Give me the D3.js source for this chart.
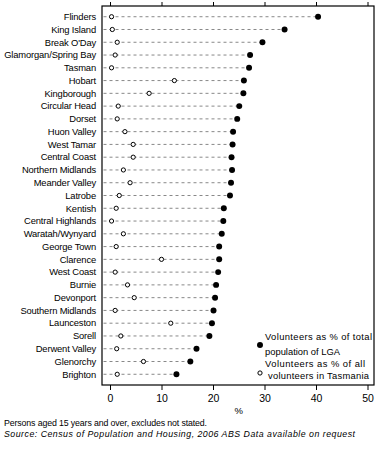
<!DOCTYPE html>
<html><head><meta charset="utf-8">
<script src="https://cdn.jsdelivr.net/npm/d3@7"></script>
<style>
body{margin:0;background:#fff;}
svg{display:block;font-family:"Liberation Sans",Arial,sans-serif;}
</style></head>
<body>
<script>
const categories = ["Flinders","King Island","Break O'Day","Glamorgan/Spring Bay","Tasman","Hobart","Kingborough","Circular Head","Dorset","Huon Valley","West Tamar","Central Coast","Northern Midlands","Meander Valley","Latrobe","Kentish","Central Highlands","Waratah/Wynyard","George Town","Clarence","West Coast","Burnie","Devonport","Southern Midlands","Launceston","Sorell","Derwent Valley","Glenorchy","Brighton"];
const pctPopulation = [40.4,33.9,29.6,27.2,27.0,26.0,25.9,25.1,24.7,23.9,23.8,23.6,23.7,23.5,23.3,22.1,22.0,21.7,21.2,21.2,21.0,20.6,20.4,20.1,19.8,19.3,16.8,15.6,12.9];
const pctTasVolunteers = [0.3,0.45,1.4,1.0,0.3,12.5,7.6,1.6,1.4,2.9,4.5,4.5,2.6,3.9,1.8,1.2,0.3,2.6,1.2,10.0,1.0,3.4,4.7,1.0,11.8,2.1,1.3,6.5,1.4];
const xTicks = [0,10,20,30,40,50];
const seriesNames = [["Volunteers as % of total","population of LGA"],["Volunteers as % of all","volunteers in Tasmania"]];

(function(){
const W=378,H=454;
const frame={l:102,r:374,t:6,b:385};
const svg=d3.select("body").append("svg").attr("width",W).attr("height",H);

const x=d3.scaleLinear().domain([0,50]).range([110,367.5]);
const y=d3.scalePoint().domain(categories).range([frame.t,frame.b]).padding(0.84);

svg.append("rect").attr("x",frame.l).attr("y",frame.t).attr("width",frame.r-frame.l).attr("height",frame.b-frame.t)
  .attr("fill","none").attr("stroke","#000").attr("stroke-width",1.2);

const bottomAxis=d3.axisBottom(x).tickValues(xTicks).tickSize(5).tickFormat(d3.format("d"));
const gb=svg.append("g").attr("transform",`translate(0,${frame.b})`).call(bottomAxis);
gb.select(".domain").remove();
gb.selectAll("text").attr("font-size",10.5).attr("fill","#000").attr("dy","0.9em").attr("font-family","Liberation Sans, Arial, sans-serif");
gb.selectAll("line").attr("stroke","#000");
const topAxis=d3.axisTop(x).tickValues(xTicks).tickSize(4).tickFormat("");
const gt=svg.append("g").attr("transform",`translate(0,${frame.t})`).call(topAxis);
gt.select(".domain").remove();
gt.selectAll("line").attr("stroke","#000");

svg.append("g").selectAll("text").data(categories).join("text")
  .attr("x",96).attr("y",d=>y(d)).attr("dy","0.35em").attr("text-anchor","end")
  .attr("font-size",9.4).attr("letter-spacing",-0.15).text(d=>d);

svg.append("g").selectAll("line").data(categories).join("line")
  .attr("x1",frame.l+1.5).attr("x2",(d,i)=>x(pctPopulation[i]))
  .attr("y1",d=>y(d)).attr("y2",d=>y(d))
  .attr("stroke","#888").attr("stroke-width",1).attr("stroke-dasharray","3,3");

const filledSym=d3.symbol().type(d3.symbolCircle).size(28);
const openSym=d3.symbol().type(d3.symbolCircle).size(14);
svg.append("g").selectAll("path").data(categories).join("path")
  .attr("transform",(d,i)=>`translate(${x(pctPopulation[i])},${y(d)})`)
  .attr("d",filledSym).attr("fill","#000");
svg.append("g").selectAll("path").data(categories).join("path")
  .attr("transform",(d,i)=>`translate(${x(pctTasVolunteers[i])},${y(d)})`)
  .attr("d",openSym).attr("fill","#fff").attr("stroke","#000").attr("stroke-width",1);

const lg=svg.append("g");
lg.append("path").attr("transform","translate(260,345)").attr("d",filledSym).attr("fill","#000");
lg.append("path").attr("transform","translate(260,373)").attr("d",openSym).attr("fill","#fff").attr("stroke","#000");
const lt=[[265,337,seriesNames[0][0],107],[265,352,seriesNames[0][1],null],[265,364,seriesNames[1][0],100],[268,376,seriesNames[1][1],101]];
lg.selectAll("text").data(lt).join("text").attr("x",d=>d[0]).attr("y",d=>d[1]).attr("dy","0.35em")
  .attr("font-size",9.4).attr("textLength",d=>d[3]).attr("lengthAdjust","spacing").text(d=>d[2]);

svg.append("text").attr("x",x(25)).attr("y",411).attr("dy","0.35em").attr("text-anchor","middle").attr("font-size",9.5).text("%");

svg.append("text").attr("x",4).attr("y",423).attr("dy","0.35em").attr("font-size",8.8)
  .attr("textLength",203).attr("lengthAdjust","spacing")
  .text("Persons aged 15 years and over, excludes not stated.");
svg.append("text").attr("x",4).attr("y",434).attr("dy","0.35em").attr("font-size",8.8).attr("font-style","italic")
  .attr("textLength",351).attr("lengthAdjust","spacing")
  .text("Source: Census of Population and Housing, 2006 ABS Data available on request");
})();
</script>
</body></html>
